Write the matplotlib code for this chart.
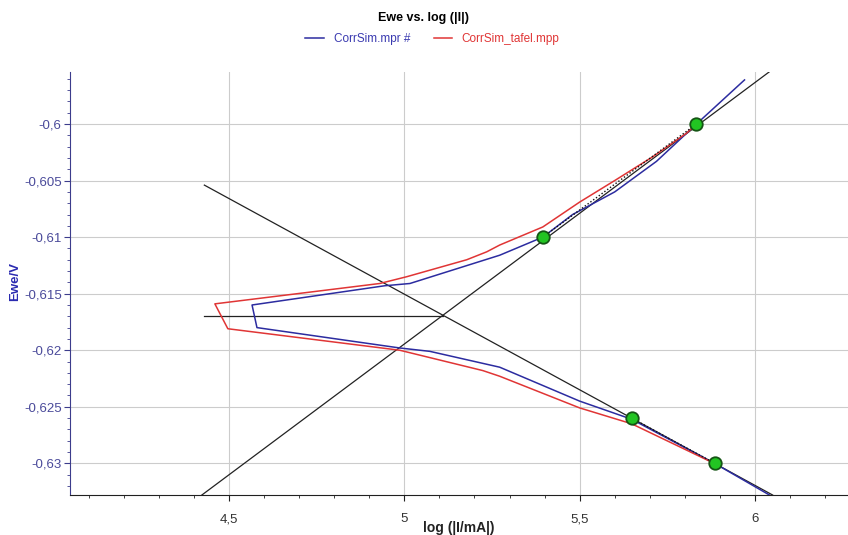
import numpy as np
import matplotlib
matplotlib.use('Agg')
import matplotlib.pyplot as plt
from matplotlib.ticker import MultipleLocator, FuncFormatter

plt.rcParams['font.family'] = ['Liberation Sans', 'DejaVu Sans']

# Curva medida (CorrSim.mpr #): rama superior de derecha a izquierda, luego rama inferior
mpr_x = [5.970, 5.833, 5.719, 5.600, 5.480, 5.395, 5.272, 5.016, 4.944, 4.566,
         4.580, 4.987, 5.073, 5.272, 5.386, 5.500, 5.648, 5.890, 6.041]
mpr_y = [-0.5961, -0.6000, -0.6033, -0.6060, -0.6080, -0.6100, -0.6116, -0.6141, -0.6143, -0.6160,
         -0.6180, -0.6198, -0.6201, -0.6215, -0.6230, -0.6245, -0.6261, -0.6301, -0.6328]

# Curva simulada (CorrSim_tafel.mpp)
tafel_x = [5.833, 5.805, 5.708, 5.605, 5.500, 5.395, 5.272, 5.235, 5.178, 5.007, 4.930, 4.460,
           4.497, 4.987, 5.224, 5.272, 5.500, 5.648, 5.890]
tafel_y = [-0.6000, -0.6008, -0.6029, -0.6049, -0.6069, -0.6091, -0.6107, -0.6113, -0.6120, -0.6135, -0.6141, -0.6159,
           -0.6181, -0.6200, -0.6218, -0.6223, -0.6251, -0.6265, -0.6301]

# Rectas de Tafel y Ecorr
anod_x = [4.423, 6.040]
anod_y = [-0.6328, -0.5954]
cat_x = [4.430, 6.050]
cat_y = [-0.6054, -0.6328]
ecorr_x = [4.430, 5.110]
ecorr_y = [-0.6170, -0.6170]

# Puntos de ajuste (verde)
pts_x = [5.833, 5.395, 5.648, 5.885]
pts_y = [-0.6000, -0.6100, -0.6260, -0.6300]

fig = plt.figure(figsize=(8.48, 5.35), dpi=100)
ax = fig.add_axes([70/848, 40/535, 778/848, 423/535])

ax.plot(anod_x, anod_y, color='#222222', lw=0.9, zorder=2)
ax.plot(cat_x, cat_y, color='#222222', lw=0.9, zorder=2)
ax.plot(ecorr_x, ecorr_y, color='#222222', lw=0.9, zorder=2)
l1, = ax.plot(mpr_x, mpr_y, color='#2c2ca0', lw=1.1, zorder=3, label='CorrSim.mpr #')
l2, = ax.plot(tafel_x, tafel_y, color='#e03535', lw=1.1, zorder=3, label='CorrSim_tafel.mpp')
ax.plot([pts_x[1], pts_x[0]], [pts_y[1], pts_y[0]], color='#111111', lw=1.0, ls=(0, (1, 1.5)), zorder=4)
ax.plot([pts_x[2], pts_x[3]], [pts_y[2], pts_y[3]], color='#111111', lw=1.0, ls=(0, (1, 1.5)), zorder=4)
ax.plot(pts_x, pts_y, 'o', ms=9, mfc='#22c422', mec='#155515', mew=1.3, zorder=5)

ax.set_xlim(4.047, 6.265)
ax.set_ylim(-0.6328, -0.5954)

ax.xaxis.set_major_locator(MultipleLocator(0.5))
ax.xaxis.set_minor_locator(MultipleLocator(0.1))
ax.yaxis.set_major_locator(MultipleLocator(0.005))
ax.yaxis.set_minor_locator(MultipleLocator(0.001))
coma = FuncFormatter(lambda v, p: ('%g' % round(v, 4)).replace('.', ','))
ax.xaxis.set_major_formatter(coma)
ax.yaxis.set_major_formatter(coma)

ax.grid(True, which='major', color='#cccccc', lw=0.8)
ax.set_axisbelow(True)
for s in ['top', 'right']:
    ax.spines[s].set_visible(False)
ax.spines['left'].set_color('#3c3c8c')
ax.spines['bottom'].set_color('#202020')
ax.tick_params(axis='y', which='both', colors='#3c3c8c', labelcolor='#4a4a9a', labelsize=9.5, pad=2)
ax.tick_params(axis='x', which='both', colors='#202020', labelcolor='#333333', labelsize=9.5, pad=9)
ax.tick_params(which='major', length=4)
ax.tick_params(which='minor', length=2.5)

ax.set_ylabel('Ewe/V', color='#2a2ab0', fontweight='bold', fontsize=9.5, va='center')
ax.yaxis.set_label_coords(-0.071, 0.505)
ax.set_xlabel('log (|I/mA|)', color='#222222', fontweight='bold', fontsize=10, va='center')
ax.xaxis.set_label_coords(0.5, -0.078)

fig.text(0.5, 0.967, 'Ewe vs. log (|I|)', ha='center', va='center', fontsize=9, fontweight='bold')
fig.legend(handles=[l1, l2], loc='center', bbox_to_anchor=(0.51, 0.927), ncol=2, frameon=False,
           fontsize=8.5, labelcolor=['#3a3ab0', '#e03535'], handlelength=1.6, columnspacing=2.0)

plt.savefig('out.png', dpi=100)
plt.close()
